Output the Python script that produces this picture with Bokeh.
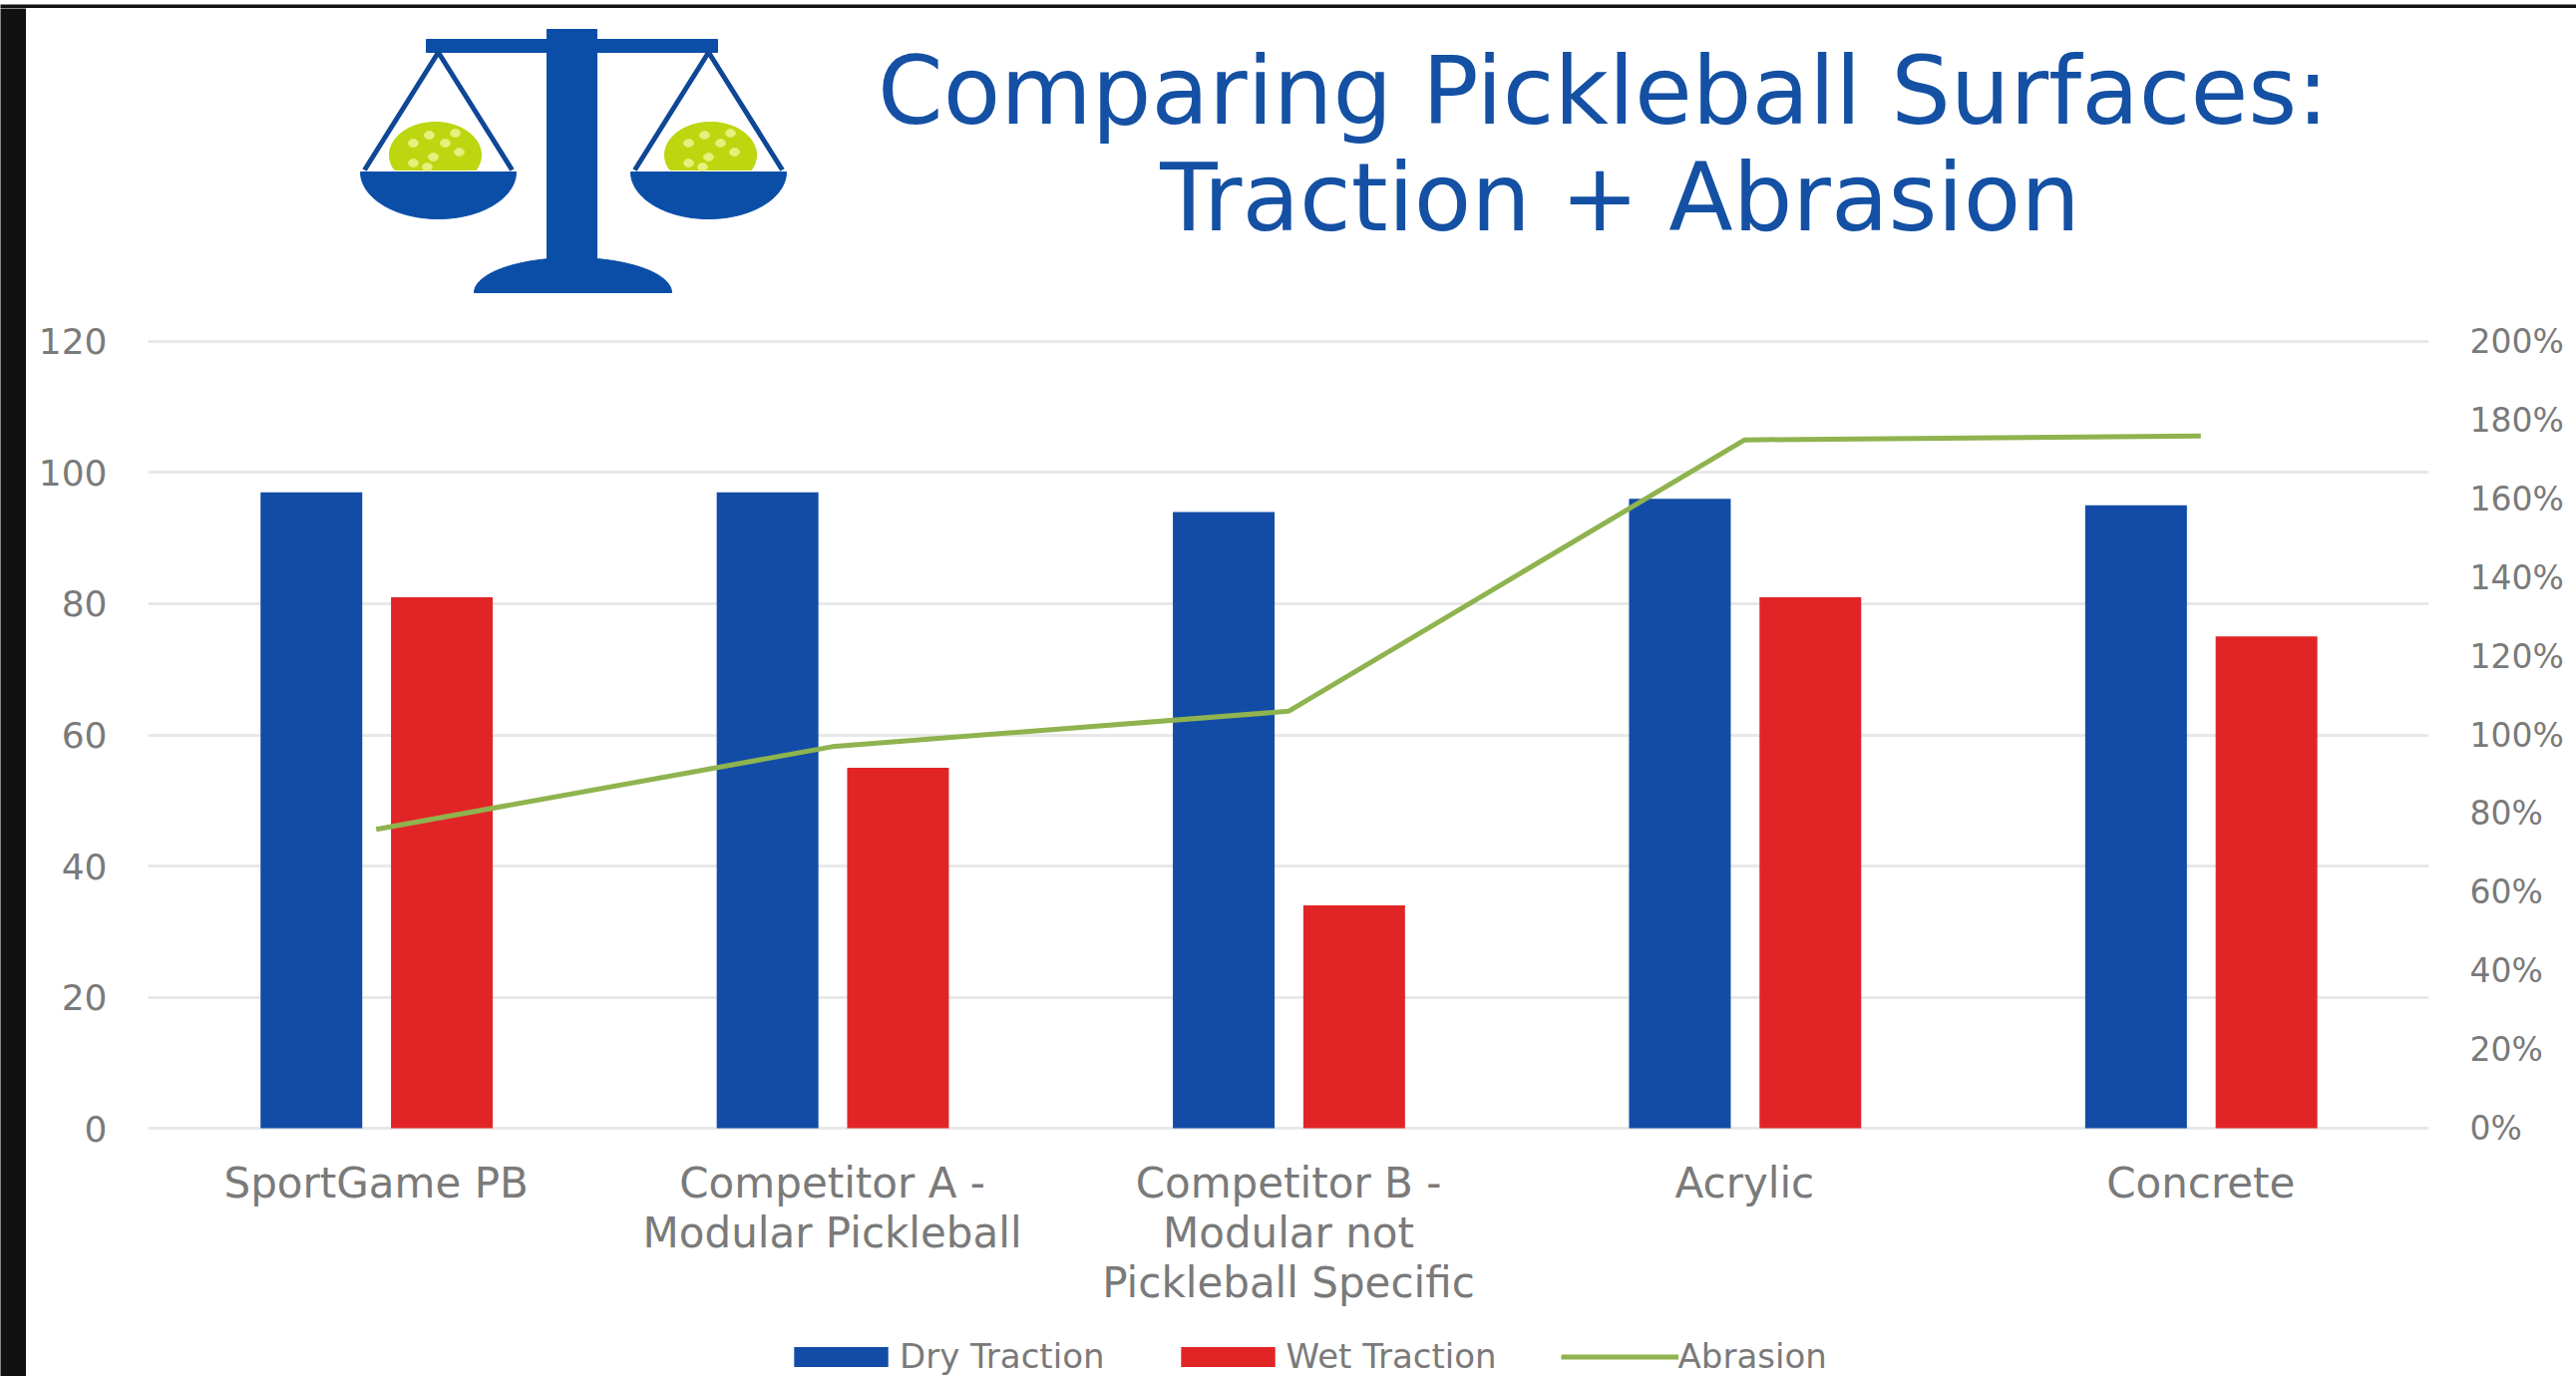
import numpy as np
from bokeh.plotting import figure
from bokeh.layouts import column, row
from bokeh.core.properties import value
from bokeh.embed import file_html
from bokeh.resources import INLINE
from bokeh.models import (FactorRange, Range1d, LinearAxis, FixedTicker, PrintfTickFormatter,
                          Legend, LegendItem, ColumnDataSource)
from bokeh.transform import dodge

categories = ["SportGame PB", "Competitor A -\nModular Pickleball",
              "Competitor B -\nModular not\nPickleball Specific", "Acrylic", "Concrete"]
dry_traction = [97, 97, 94, 96, 95]
wet_traction = [81, 55, 34, 81, 75]
abrasion = [76, 97, 106, 175, 176]
left_ticks = [0, 20, 40, 60, 80, 100, 120]
right_ticks = [0, 20, 40, 60, 80, 100, 120, 140, 160, 180, 200]
title_lines = ["Comparing Pickleball Surfaces:", "Traction + Abrasion"]

BLUE, RED, GREEN, TEXT, GRID = "#134ca6", "#e12526", "#8fb34f", "#7a7a7a", "#e8e8e8"
LOGO, BALL, DOT, INK, EDGE = "#0a4ea8", "#bcd60f", "#e6f07a", "#0f4796", "#111111"
TITLE = "#1450a3"
FONT = "DejaVu Sans"


def blank(w, h, **kw):
    f = figure(width=w, height=h, output_backend="svg", toolbar_location=None, min_border=0,
               outline_line_color=None, x_axis_location=None, y_axis_location=None, **kw)
    f.grid.visible = False
    return f


# black picture edge, top and left
top_edge = blank(2583, 8, background_fill_color=EDGE, border_fill_color=EDGE)
left_edge = blank(26, 1372, background_fill_color=EDGE, border_fill_color=EDGE)

# ---- header: logo and title; its frame lines up with the chart's (page x 148..2435)
head = blank(2557, 292, x_range=Range1d(148, 2435), y_range=Range1d(300, 8),
             background_fill_color="white", border_fill_color="white")


def ell(cx, cy, rx, ry, a0=0.0, a1=2 * np.pi):
    t = np.linspace(a0, a1, 80)
    return cx + rx * np.cos(t), cy + ry * np.sin(t)


def fill(xs, ys, color):
    head.patch(list(xs), list(ys), fill_color=color, line_color=color, line_width=1)


fill([548, 598, 598, 548], [29, 29, 290, 290], LOGO)
fill([427, 719, 719, 427], [39, 39, 52, 52], LOGO)
fill(*ell(574, 293, 99, 35, np.pi, 2 * np.pi), LOGO)
for cx, bx in ((439, 436), (710, 712)):
    bxs, bys = ell(bx, 155, 46, 33)
    fill(bxs, np.minimum(bys, 170), BALL)
    for dx, dy in ((-22, -12), (-6, -20), (10, -12), (-2, 2), (24, -3), (-22, 8), (20, -22), (-8, 12)):
        fill(*ell(bx + dx, 155 + dy, 5, 4), DOT)
    head.line([cx - 74, cx, cx + 74], [170, 52, 170], line_color=INK, line_width=5)
    fill(*ell(cx, 172, 78, 47, 0, np.pi), LOGO)

head.text(x=[1607, 1624], y=[91, 198], text=title_lines, text_font=value(FONT),
          text_font_size=value("94px"), text_color=TITLE, text_align="center", text_baseline="middle")

# ---- main chart
src = ColumnDataSource(dict(cat=categories, dry=dry_traction, wet=wet_traction, abr=abrasion))

p = figure(width=2557, height=1040, output_backend="svg", toolbar_location=None,
           x_range=FactorRange(factors=categories, range_padding=0),
           y_range=Range1d(-0.304, 120.304),
           min_border_left=122, min_border_right=148, min_border_top=40, min_border_bottom=207,
           background_fill_color="white", border_fill_color="white", outline_line_color=None)
p.extra_y_ranges = {"abr": Range1d(-0.507, 200.507)}

p.xgrid.visible = False
p.ygrid.grid_line_color = GRID
p.ygrid.grid_line_width = 3
p.ygrid.ticker = FixedTicker(ticks=left_ticks)

p.vbar(x=dodge("cat", -0.142, range=p.x_range), top="dry", width=0.223, source=src,
       color=BLUE, line_color=None)
p.vbar(x=dodge("cat", 0.144, range=p.x_range), top="wet", width=0.223, source=src,
       color=RED, line_color=None)
p.line(x="cat", y="abr", source=src, y_range_name="abr", color=GREEN, line_width=5)

for ax in (p.xaxis[0], p.yaxis[0]):
    ax.axis_line_color = None
    ax.major_tick_line_color = None
    ax.minor_tick_line_color = None
    ax.major_label_text_color = TEXT
    ax.major_label_text_font = FONT

p.yaxis[0].ticker = FixedTicker(ticks=left_ticks)
p.yaxis[0].major_label_text_font_size = "36px"
p.yaxis[0].major_label_standoff = 35

p.xaxis[0].major_label_text_font_size = "42px"
p.xaxis[0].major_label_text_line_height = 1.03
p.xaxis[0].major_label_standoff = 22

rax = LinearAxis(y_range_name="abr", ticker=FixedTicker(ticks=right_ticks),
                 formatter=PrintfTickFormatter(format="%d%%"))
rax.axis_line_color = None
rax.major_tick_line_color = None
rax.minor_tick_line_color = None
rax.major_label_text_color = TEXT
rax.major_label_text_font = FONT
rax.major_label_text_font_size = "33px"
rax.major_label_standoff = 35
p.add_layout(rax, "right")

# ---- legend strip; the keys' data lie below this strip's range on purpose
foot = blank(2557, 40, x_range=Range1d(0, 1), y_range=Range1d(0, 1),
             background_fill_color="white", border_fill_color="white")
k_dry = foot.vbar(x=[0.5], bottom=[-6], top=[-5], width=0.1, color=BLUE, line_color=None)
k_wet = foot.vbar(x=[0.5], bottom=[-6], top=[-5], width=0.1, color=RED, line_color=None)
k_abr = foot.line(x=[0.4, 0.6], y=[-5, -5], color=GREEN, line_width=5)
foot.add_layout(Legend(items=[LegendItem(label="Dry Traction", renderers=[k_dry]),
                              LegendItem(label="Wet Traction", renderers=[k_wet]),
                              LegendItem(label="Abrasion", renderers=[k_abr])],
                       orientation="horizontal", location=(636, 0), margin=0, padding=0,
                       glyph_width=118, glyph_height=25, label_height=20, label_standoff=0, spacing=64,
                       border_line_color=None, background_fill_alpha=0,
                       label_text_font=FONT, label_text_font_size="34px", label_text_color=TEXT))

page = column(top_edge, row(left_edge, column(head, p, foot, spacing=0), spacing=0), spacing=0)

open("out.html", "w").write(file_html(page, INLINE))
